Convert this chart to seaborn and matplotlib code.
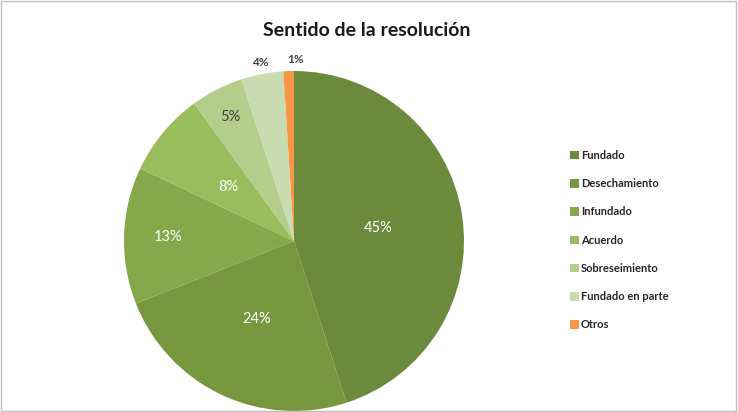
import matplotlib
matplotlib.use("Agg")
import matplotlib.pyplot as plt
import seaborn as sns
import numpy as np
from matplotlib.patches import Rectangle

# data
categories = ['Fundado', 'Desechamiento', 'Infundado', 'Acuerdo',
              'Sobreseimiento', 'Fundado en parte', 'Otros']
shares = [45, 24, 13, 8, 5, 4, 1]
labels = ['45%', '24%', '13%', '8%', '5%', '4%', '1%']

colors = ['#6b8a3c', '#77973f', '#85a84a', '#99bd5c', '#b3cd8b', '#c9dcb1', '#f79646']
label_colors = ['white', 'white', 'white', 'white', '#404040', '#404040', '#404040']
label_dist = [0.50, 0.51, 0.74, 0.50, 0.82, 1.07, 1.07]

sns.set_theme(style='white')
plt.rcParams['font.family'] = ['Lato', 'DejaVu Sans']

fig = plt.figure(figsize=(7.38, 4.12), dpi=100)
fig.patch.set_facecolor('white')
fig.add_artist(Rectangle((0.002, 0.003), 0.995, 0.994, transform=fig.transFigure,
                         fill=False, edgecolor='#bfbfbf', linewidth=1))

ax = fig.add_axes([124 / 738, 1 / 412, 340 / 738, 340 / 412])
wedges, _ = ax.pie(shares, colors=colors, startangle=90, counterclock=False,
                   wedgeprops=dict(linewidth=0))
ax.set_xlim(-1, 1)
ax.set_ylim(-1, 1)
ax.set_aspect('equal')
ax.set_clip_on(False)

for w, lab, c, d in zip(wedges, labels, label_colors, label_dist):
    ang = np.deg2rad((w.theta1 + w.theta2) / 2)
    x, y = d * np.cos(ang), d * np.sin(ang)
    if lab == '1%':
        x += 0.04
    ax.text(x, y, lab, ha='center', va='center', color=c, clip_on=False,
            fontsize=10.5 if d < 1 else 8.5, fontweight='bold' if d > 1 else 'normal')

fig.text(367 / 738, 1 - 30 / 412, 'Sentido de la resolución', ha='center', va='center',
         fontsize=14, fontweight='bold', color='#1a1a1a')

leg = fig.legend(wedges, categories, loc='upper left', bbox_to_anchor=(560 / 738, 1 - 140 / 412),
                 frameon=False, handlelength=0.8, handleheight=0.8,
                 handletextpad=0.2, labelspacing=1.55, prop={'weight': 'bold', 'size': 8})
for t in leg.get_texts():
    t.set_color('#262626')

fig.savefig('out.png', dpi=100)
